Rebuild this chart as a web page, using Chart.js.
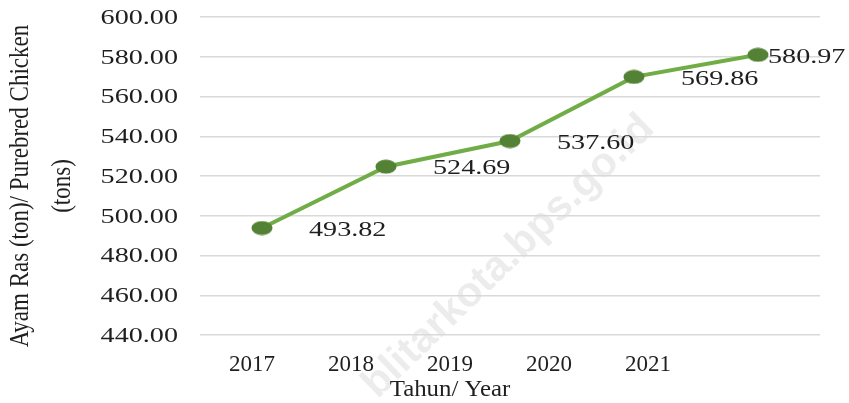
<!DOCTYPE html>
<html>
<head>
<meta charset="utf-8">
<script src="https://cdn.jsdelivr.net/npm/chart.js@4"></script>
<style>
  html, body { margin: 0; padding: 0; background: #fff; }
  #wrap { width: 849px; height: 403px; }
</style>
</head>
<body>
<div id="wrap"><canvas id="chart" width="849" height="403"></canvas></div>
<script>
// Data
const years = ['2017', '2018', '2019', '2020', '2021'];
const chickenTons = [493.82, 524.69, 537.60, 569.86, 580.97];
const yearTicks = [2017, 2018, 2019, 2020, 2021];
const yTitle = ['Ayam Ras (ton)/ Purebred Chicken', '(tons)'];
const xTitle = 'Tahun/ Year';
const watermark = 'blitarkota.bps.go.id';

const SERIF = '"Liberation Serif", "Times New Roman", serif';
const TEXT = '#1f1f1f';

// slightly flattened marker like the source
function makeMarker() {
  const c = document.createElement('canvas');
  c.width = 22; c.height = 15;
  const g = c.getContext('2d');
  g.fillStyle = '#548235';
  g.beginPath();
  g.ellipse(11, 7.5, 10.5, 7, 0, 0, Math.PI * 2);
  g.fill();
  return c;
}

// draws text stretched horizontally
function stretchText(ctx, text, x, y, sx, align) {
  ctx.save();
  ctx.translate(x, y);
  ctx.scale(sx, 1);
  ctx.textAlign = align;
  ctx.fillText(text, 0, 0);
  ctx.restore();
}

const textPlugin = {
  id: 'textPlugin',
  beforeDraw(chart) {
    const ctx = chart.ctx;
    ctx.save();
    ctx.translate(648, 122);
    ctx.rotate(-44 * Math.PI / 180);
    ctx.font = 'bold 42px "Liberation Sans", Arial, sans-serif';
    ctx.fillStyle = 'rgba(0,0,0,0.075)';
    ctx.textAlign = 'right';
    ctx.textBaseline = 'middle';
    ctx.fillText(watermark, 0, 0);
    ctx.restore();
  },
  afterDatasetsDraw(chart) {
    const ctx = chart.ctx;
    const y = chart.scales.y;
    const x2 = chart.scales.x2;
    ctx.save();
    ctx.fillStyle = TEXT;
    ctx.textBaseline = 'middle';
    ctx.font = '22px ' + SERIF;

    // y tick labels
    y.ticks.forEach(t => {
      stretchText(ctx, t.value.toFixed(2), 178, y.getPixelForValue(t.value) + 1, 1.28, 'right');
    });

    // point labels
    const pts = chart.getDatasetMeta(0).data;
    pts.forEach((p, i) => {
      const dx = i === pts.length - 1 ? 10 : 47;
      stretchText(ctx, chickenTons[i].toFixed(2), p.x + dx, p.y + 2, 1.28, 'left');
    });

    // x axis title, centred under the year labels
    ctx.font = '23px ' + SERIF;
    const mid = yearTicks[Math.floor(yearTicks.length / 2)];
    stretchText(ctx, xTitle, x2.getPixelForValue(mid), 390, 1.08, 'center');

    // y axis title, two rotated lines
    const cy = (chart.chartArea.top + chart.chartArea.bottom) / 2 + 10;
    [21, 63].forEach((cx, i) => {
      ctx.save();
      ctx.translate(cx, cy);
      ctx.rotate(-Math.PI / 2);
      ctx.scale(1, 1.2);
      ctx.textAlign = 'center';
      ctx.fillText(yTitle[i], 0, 0);
      ctx.restore();
    });
    ctx.restore();
  }
};

new Chart(document.getElementById('chart').getContext('2d'), {
  type: 'line',
  data: {
    labels: years,
    datasets: [{
      data: chickenTons,
      borderColor: '#70ad47',
      borderWidth: 4,
      tension: 0,
      pointStyle: makeMarker(),
      pointRadius: 8,
      pointHoverRadius: 8
    }]
  },
  options: {
    responsive: false,
    animation: false,
    layout: { padding: { left: 0, right: 29, top: 17, bottom: 0 } },
    plugins: { legend: { display: false }, tooltip: { enabled: false } },
    scales: {
      x: { display: false, offset: true },
      x2: {
        type: 'linear',
        position: 'bottom',
        min: 2016.475,
        max: 2022.737,
        grid: { display: false },
        border: { display: false },
        afterBuildTicks: axis => { axis.ticks = yearTicks.map(v => ({ value: v })); },
        afterFit: axis => { axis.height = 68; },
        ticks: {
          padding: 8,
          color: TEXT,
          font: { family: SERIF, size: 23 },
          callback: v => String(v)
        }
      },
      y: {
        min: 440,
        max: 600,
        afterFit: axis => { axis.width = 200; },
        ticks: { stepSize: 20, display: false },
        grid: { color: '#d9d9d9', lineWidth: 1.5, drawTicks: false },
        border: { display: false }
      }
    }
  },
  plugins: [textPlugin]
});
</script>
</body>
</html>
